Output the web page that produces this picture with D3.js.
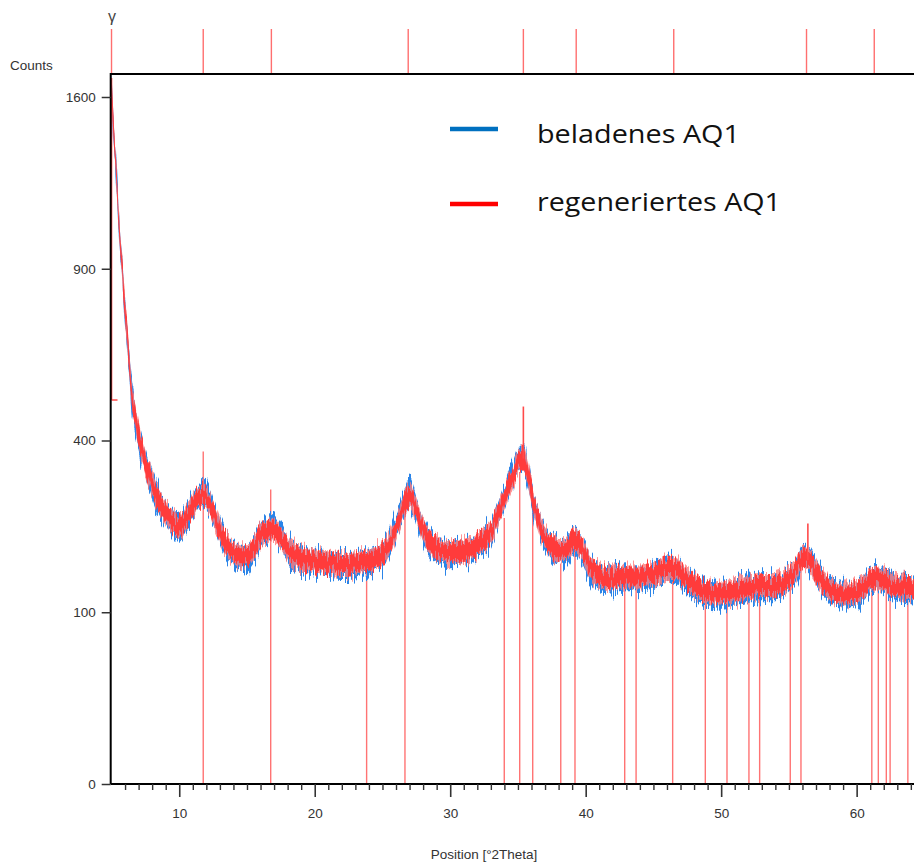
<!DOCTYPE html>
<html>
<head>
<meta charset="utf-8">
<script src="https://cdn.jsdelivr.net/npm/d3@7"></script>
<style>
  body { margin: 0; background: #fff; }
  svg { display: block; }
</style>
</head>
<body>
<script>
// 2Theta sample positions and band centres (counts)
const twoTheta = [5.0, 5.1, 5.25, 5.4, 5.55, 5.75, 5.9, 6.1, 6.3, 6.5, 6.75, 7.0, 7.3, 7.8, 8.3, 9.0, 9.5, 10.0,
  10.5, 11.0, 11.5, 11.8, 12.2, 12.7, 13.3, 14.0, 14.5, 15.0, 15.5, 16.0, 16.8, 17.5, 18.0, 18.5, 19.5, 20.5,
  21.5, 22.5, 23.5, 24.5, 25.0, 25.5, 26.0, 26.5, 27.0, 27.5, 28.0, 29.0, 30.0, 31.0, 32.0, 33.0, 33.5, 34.0,
  34.5, 35.0, 35.4, 35.8, 36.2, 36.6, 37.2, 38.0, 38.6, 39.2, 39.8, 40.3, 41.0, 42.0, 43.0, 44.0, 45.0, 46.0,
  46.5, 47.3, 48.0, 49.0, 50.0, 51.0, 52.0, 53.0, 54.0, 54.8, 55.5, 56.1, 56.6, 57.3, 58.0, 59.0, 60.0, 60.8,
  61.5, 62.3, 63.3, 64.3];

const beladenes = [1650, 1510, 1355, 1210, 1065, 918, 815, 708, 605, 508, 456, 408, 370, 320, 279, 246, 228, 221,
  238, 262, 282, 290, 270, 235, 198, 178, 172, 173, 186, 208, 222, 206, 186, 174, 168, 165, 162, 161, 164, 170,
  177, 194, 224, 260, 288, 255, 216, 185, 179, 181, 192, 213, 244, 278, 314, 352, 362, 316, 260, 225, 197, 180,
  185, 200, 182, 157, 144, 139, 142, 142, 145, 155, 157, 143, 131, 122, 120, 123, 128, 130, 130, 138, 154, 176,
  168, 141, 127, 120, 122, 135, 144, 136, 128, 127];

const regeneriertes = [1652, 1513, 1359, 1213, 1068, 921, 818, 712, 608, 511, 460, 412, 373, 323, 282, 250, 232, 225,
  241, 263, 280, 284, 267, 236, 201, 182, 176, 176, 188, 208, 218, 206, 188, 177, 171, 168, 165, 164, 167, 173,
  180, 195, 222, 256, 282, 254, 218, 188, 182, 184, 195, 215, 245, 278, 312, 350, 359, 316, 263, 229, 201, 184,
  188, 201, 185, 161, 148, 143, 146, 146, 149, 158, 158, 146, 134, 125, 123, 126, 131, 133, 133, 141, 155, 173,
  167, 143, 130, 123, 125, 137, 145, 138, 131, 130];

// single spikes of the red scan
const spikeTheta = [5.0, 35.4, 56.4];
const spikeLow = [500, 359, 170];
const spikeHigh = [1690, 483, 230];

// reference pattern sticks (bottom)
const stickTheta = [11.77, 16.75, 23.83, 26.66, 33.99, 35.13, 36.09, 38.16, 39.21, 42.88, 43.72, 46.42, 48.83,
  50.43, 52.05, 52.84, 55.10, 55.89, 61.12, 61.60, 62.19, 62.47, 63.78];
const stickCounts = [375, 294, 160, 265, 240, 330, 250, 165, 190, 135, 135, 150, 120, 118, 150, 125, 145, 160,
  135, 140, 135, 135, 128];

// second reference pattern (markers in the top strip)
const topTheta = [5.0, 11.77, 16.8, 26.9, 35.4, 39.3, 46.5, 56.3, 61.3];

const yTicks = [0, 100, 400, 900, 1600];
const xMajor = [10, 20, 30, 40, 50, 60];
const xMinor = d3.range(6, 65, 1);

const seriesNames = ["beladenes AQ1", "regeneriertes AQ1"];

const width = 914, height = 863;
const plotLeft = 110.7, plotTop = 74, plotBottom = 784;
const axisFont = "Liberation Sans, Arial, sans-serif";

const svg = d3.select("body").append("svg")
  .attr("width", width)
  .attr("height", height);

const x = d3.scaleLinear().domain([4.94, 64.3]).range([plotLeft, 914.9]);
const y = d3.scaleSqrt().domain([0, 1600]).range([plotBottom, 97]);

const defs = svg.append("defs");
defs.append("clipPath").attr("id", "plot")
  .append("rect").attr("x", plotLeft).attr("y", plotTop)
  .attr("width", width - plotLeft).attr("height", plotBottom - plotTop);

// jagged edges for the noisy scans (vertical displacement only)
function noiseFilter(id, seed, freq, scale) {
  const f = defs.append("filter").attr("id", id)
    .attr("x", "-2%").attr("y", "-10%").attr("width", "104%").attr("height", "120%");
  f.append("feTurbulence").attr("type", "fractalNoise")
    .attr("baseFrequency", `${freq} 0.02`).attr("numOctaves", 3).attr("seed", seed).attr("result", "t");
  f.append("feColorMatrix").attr("in", "t").attr("type", "matrix")
    .attr("values", "0 0 0 0 0.5  0 1.4 0 0 -0.2  0 0 1 0 0  0 0 0 0 1").attr("result", "m");
  f.append("feDisplacementMap").attr("in", "SourceGraphic").attr("in2", "m")
    .attr("scale", scale).attr("xChannelSelector", "R").attr("yChannelSelector", "G");
}
noiseFilter("noiseBlue", 4, 0.6, 24);
noiseFilter("noiseRed", 11, 0.55, 18);
noiseFilter("noiseRed2", 23, 0.7, 16);

const plot = svg.append("g").attr("clip-path", "url(#plot)");

// sticks
plot.selectAll(".stick")
  .data(stickTheta)
  .enter()
  .append("line")
  .attr("x1", d => x(d)).attr("x2", d => x(d))
  .attr("y1", y(0))
  .attr("y2", (d, i) => y(stickCounts[i]))
  .attr("stroke", "#ff7373")
  .attr("stroke-width", 1.4);

function band(values, half) {
  return d3.area()
    .x((d, i) => x(twoTheta[i]))
    .y0(d => y(d) + half)
    .y1(d => y(d) - half)
    .curve(d3.curveMonotoneX)(values);
}

plot.append("path")
  .attr("d", band(beladenes, 12))
  .attr("fill", "#2b84e8")
  .attr("filter", "url(#noiseBlue)");

plot.append("path")
  .attr("d", band(regeneriertes, 11))
  .attr("fill", "#ff7b7b")
  .attr("opacity", 0.8)
  .attr("filter", "url(#noiseRed2)");

plot.append("path")
  .attr("d", band(regeneriertes, 8))
  .attr("fill", "#ff3b3b")
  .attr("filter", "url(#noiseRed)");

plot.selectAll(".spike")
  .data(spikeTheta)
  .enter()
  .append("line")
  .attr("x1", d => x(d)).attr("x2", d => x(d))
  .attr("y1", (d, i) => y(spikeLow[i]))
  .attr("y2", (d, i) => y(spikeHigh[i]))
  .attr("stroke", "#ff4a4a")
  .attr("stroke-width", 1.6);

plot.append("line")
  .attr("x1", x(spikeTheta[0])).attr("x2", x(spikeTheta[0]) + 6)
  .attr("y1", y(spikeLow[0])).attr("y2", y(spikeLow[0]))
  .attr("stroke", "#ff4a4a").attr("stroke-width", 1.4);

// top strip markers
svg.selectAll(".marker")
  .data(topTheta)
  .enter()
  .append("line")
  .attr("x1", d => x(d)).attr("x2", d => x(d))
  .attr("y1", 29).attr("y2", plotTop)
  .attr("stroke", "#ff6f6f")
  .attr("stroke-width", 1.4);

svg.append("text")
  .attr("x", x(topTheta[0]) + 0.5)
  .attr("y", 22)
  .attr("text-anchor", "middle")
  .style("font-family", axisFont)
  .style("font-size", "16px")
  .attr("fill", "#444")
  .text("γ");

// frame
svg.append("line").attr("x1", plotLeft).attr("x2", width).attr("y1", plotTop).attr("y2", plotTop)
  .attr("stroke", "#000").attr("stroke-width", 2);
svg.append("line").attr("x1", plotLeft).attr("x2", plotLeft).attr("y1", plotTop - 1).attr("y2", plotBottom)
  .attr("stroke", "#000").attr("stroke-width", 2);
svg.append("line").attr("x1", plotLeft).attr("x2", width).attr("y1", plotBottom).attr("y2", plotBottom)
  .attr("stroke", "#000").attr("stroke-width", 2);

// y axis
const yAxis = svg.append("g").attr("transform", `translate(${plotLeft},0)`)
  .call(d3.axisLeft(y).tickValues(yTicks).tickSize(9).tickPadding(6).tickFormat(d3.format("d")));
yAxis.select(".domain").remove();
yAxis.selectAll("line").attr("stroke", "#333").attr("stroke-width", 1.5);
yAxis.selectAll("text")
  .style("font-family", axisFont)
  .style("font-size", "13.5px")
  .attr("fill", "#333");

// x axis
const xAxisMinor = svg.append("g").attr("transform", `translate(0,${plotBottom})`)
  .call(d3.axisBottom(x).tickValues(xMinor.filter(d => d % 10 !== 0)).tickSize(6).tickFormat(""));
xAxisMinor.select(".domain").remove();
xAxisMinor.selectAll("line").attr("stroke", "#333").attr("stroke-width", 1.4);

const xAxis = svg.append("g").attr("transform", `translate(0,${plotBottom})`)
  .call(d3.axisBottom(x).tickValues(xMajor).tickSize(13).tickPadding(11).tickFormat(d3.format("d")));
xAxis.select(".domain").remove();
xAxis.selectAll("line").attr("stroke", "#333").attr("stroke-width", 1.6);
xAxis.selectAll("text")
  .style("font-family", axisFont)
  .style("font-size", "13.5px")
  .attr("fill", "#333");

svg.append("text")
  .attr("x", 10).attr("y", 70)
  .style("font-family", axisFont)
  .style("font-size", "13.5px")
  .attr("fill", "#333")
  .text("Counts");

svg.append("text")
  .attr("x", 484).attr("y", 859)
  .attr("text-anchor", "middle")
  .style("font-family", axisFont)
  .style("font-size", "13.5px")
  .attr("fill", "#333")
  .text("Position [°2Theta]");

// legend
const legendColors = ["#0070c0", "#ff0000"];
const legendLineY = [129, 204];
const legendTextY = [143, 211];
const legendWidths = [203, 244];
const legend = svg.selectAll(".legend")
  .data(seriesNames)
  .enter()
  .append("g");
legend.append("line")
  .attr("x1", 450).attr("x2", 498)
  .attr("y1", (d, i) => legendLineY[i]).attr("y2", (d, i) => legendLineY[i])
  .attr("stroke", (d, i) => legendColors[i])
  .attr("stroke-width", 4.5);
legend.append("text")
  .attr("x", 537)
  .attr("y", (d, i) => legendTextY[i])
  .attr("textLength", (d, i) => legendWidths[i])
  .attr("lengthAdjust", "spacingAndGlyphs")
  .style("font-family", "Open Sans, Noto Sans, sans-serif")
  .style("font-size", "26px")
  .attr("fill", "#111")
  .text(d => d);
</script>
</body>
</html>
